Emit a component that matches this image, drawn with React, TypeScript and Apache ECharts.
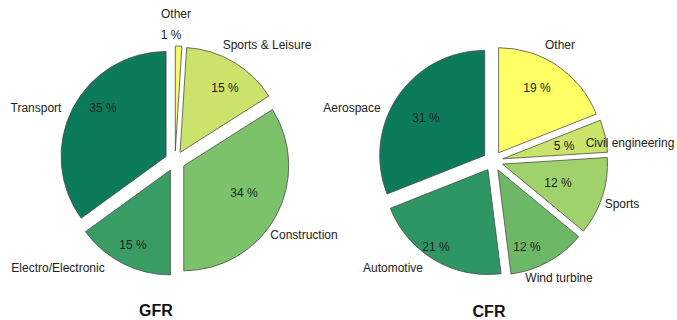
import React, { useEffect, useRef } from "react";
import * as echarts from "echarts";

// ---- data ----
const gfrNames = ["Other", "Sports & Leisure", "Construction", "Electro/Electronic", "Transport"];
const gfrValues = [1, 15, 34, 15, 35];
const cfrNames = ["Other", "Civil engineering", "Sports", "Wind turbine", "Automotive", "Aerospace"];
const cfrValues = [19, 5, 12, 12, 21, 31];
const chartTitles = ["GFR", "CFR"];

// ---- styles / layout ----
const gfrColors = ["#f7f76c", "#cbe36b", "#7cc26b", "#3a9c65", "#0b7b5c"];
const cfrColors = ["#ffff66", "#cbe36b", "#a0d26b", "#6db866", "#2e9663", "#0b7b5c"];
const gfrPctPos = [[171, 35], [225, 88], [244, 193], [133, 245], [103, 108]];
const gfrNamePos = [[176, 14], [267, 45], [304, 235], [58, 268], [36, 108]];
const cfrPctPos = [[537, 88], [564, 146], [558, 183], [527, 247], [436, 247], [426, 118]];
const cfrNamePos = [[560, 45], [630, 143], [622, 204], [559, 278], [393, 268], [352, 108]];
const titlePos = [[156, 310], [489, 311]];

const FONT = "'Liberation Sans', Arial, sans-serif";
const TEXT = "#222";
const BORDER = "#4d4d4d";

function makeSeries(names: string[], values: number[], colors: string[], center: number[]) {
  return {
    type: "pie",
    center,
    radius: 105,
    startAngle: 90,
    clockwise: true,
    selectedMode: "multiple",
    selectedOffset: 10,
    silent: true,
    emphasis: { disabled: true },
    label: { show: false },
    labelLine: { show: false },
    data: values.map((v, i) => ({
      name: names[i],
      value: v,
      selected: true,
      itemStyle: { color: colors[i], borderColor: BORDER, borderWidth: 0.8 },
      select: { itemStyle: { color: colors[i], borderColor: BORDER, borderWidth: 0.8 } },
    })),
  };
}

function makeTexts(texts: string[], pos: number[][]) {
  return texts.map((t, i) => ({
    type: "text",
    x: pos[i][0],
    y: pos[i][1],
    silent: true,
    z: 10,
    style: {
      text: t,
      fill: TEXT,
      font: `12px ${FONT}`,
      textAlign: "center",
      textVerticalAlign: "middle",
    },
  }));
}

export default function App() {
  const ref = useRef<HTMLDivElement>(null);
  useEffect(() => {
    if (!ref.current) return;
    const chart = echarts.init(ref.current, null, { renderer: "svg" });
    chart.setOption({
      animation: false,
      backgroundColor: "#ffffff",
      series: [
        makeSeries(gfrNames, gfrValues, gfrColors, [175, 161]),
        makeSeries(cfrNames, cfrValues, cfrColors, [493, 161]),
      ],
      graphic: [
        ...makeTexts(gfrValues.map((v) => `${v} %`), gfrPctPos),
        ...makeTexts(gfrNames, gfrNamePos),
        ...makeTexts(cfrValues.map((v) => `${v} %`), cfrPctPos),
        ...makeTexts(cfrNames, cfrNamePos),
        ...chartTitles.map((t, i) => ({
          type: "text",
          x: titlePos[i][0],
          y: titlePos[i][1],
          silent: true,
          style: {
            text: t,
            fill: "#111",
            font: `bold 16px ${FONT}`,
            textAlign: "center",
            textVerticalAlign: "middle",
          },
        })),
      ],
    });
    return () => chart.dispose();
  }, []);
  return (
    <div
      ref={ref}
      style={{ position: "fixed", left: 0, top: 0, width: 677, height: 320, background: "#fff" }}
    />
  );
}
